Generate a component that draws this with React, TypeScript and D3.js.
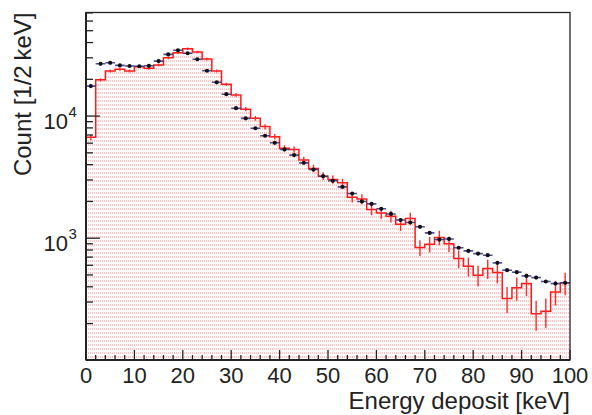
import React from "react";
import * as d3 from "d3";

const binEdges: number[] = d3.range(0, 101, 2);
const dataCounts: number[] = [
  17600, 26800, 27300, 26000, 25700, 25600, 25800, 28200, 32000, 34600,
  32700, 29200, 23500, 18900, 15100, 11600, 9580, 7950, 6900, 6040,
  5330, 4790, 4140, 3650, 3220, 2950, 2630, 2320, 2000, 1910,
  1740, 1580, 1410, 1345, 1240, 1105, 975, 986, 835, 787,
  748, 726, 628, 547, 527, 491, 476, 442, 425, 431,
];
const simCounts: number[] = [
  6700, 19800, 23400, 24200, 23400, 25400, 24600, 26200, 30000, 33000,
  35600, 33500, 29300, 23400, 18200, 14900, 11400, 9580, 8200, 6770,
  5440, 5330, 4360, 3730, 3220, 3030, 2840, 2160, 2090, 1720,
  1610, 1510, 1300, 1450, 839, 893, 1013, 900, 682, 589,
  498, 565, 524, 321, 392, 425, 241, 252, 363, 431,
];
const simWeight = 18.5; // per-event weight: error = sqrt(w * N)
const xTickLabels: string[] = ["0", "10", "20", "30", "40", "50", "60", "70", "80", "90", "100"];
const yDecades: number[] = [1000, 10000];
const xTitle = "Energy deposit [keV]";
const yTitle = "Count [1/2\u2009keV]";

const W = 592, H = 415;
const L = 86, R = 570, T = 12.5, B = 360;
const FONT = "'Liberation Sans', Arial, Helvetica, sans-serif";

export default function App() {
  const x = d3.scaleLinear().domain([0, 100]).range([L, R]);
  const y = d3.scaleLog().domain([100.6, 70500]).range([B, T]);
  const [yMin, yMax] = y.domain();

  const bins = simCounts.map((v, i) => ({ x0: binEdges[i], x1: binEdges[i + 1], v, d: dataCounts[i] }));

  const stepLine = d3.line<[number, number]>().curve(d3.curveStepAfter);
  const stepPts: [number, number][] = bins.map((b) => [x(b.x0), y(b.v)] as [number, number]);
  stepPts.push([x(100), y(bins[bins.length - 1].v)]);

  const area = d3.area<[number, number]>().curve(d3.curveStepAfter).x((p) => p[0]).y0(B).y1((p) => p[1]);

  const xMajor = d3.range(0, 101, 10);
  const xMinor = d3.range(0, 101, 2).filter((v) => v % 10 !== 0);
  const yMinor: number[] = [];
  [100, 1000, 10000].forEach((dec) => {
    for (let k = 2; k <= 9; k++) {
      const v = k * dec;
      if (v > yMin && v < yMax) yMinor.push(v);
    }
  });

  return (
    <svg width={W} height={H} style={{ position: "absolute", left: 0, top: 0, background: "#fff" }}
      fontFamily={FONT}>
      <defs>
        <pattern id="dots" width="2" height="4" patternUnits="userSpaceOnUse">
          <rect x="0" y="0" width="1" height="2" fill="#ff8c8c" opacity="0.5" />
        </pattern>
        <clipPath id="plotClip">
          <rect x={L} y={T} width={R - L} height={B - T} />
        </clipPath>
      </defs>
      <rect x={0} y={0} width={W} height={H} fill="#fff" />
      <g clipPath="url(#plotClip)">
        <path d={area(stepPts) || ""} fill="url(#dots)" />
        <path d={stepLine(stepPts) || ""} fill="none" stroke="#ff1a1a" strokeWidth={1.5} />
        {bins.map((b, i) => {
          const e = Math.sqrt(simWeight * b.v);
          const cx = x((b.x0 + b.x1) / 2);
          return <line key={"re" + i} x1={cx} x2={cx} y1={y(b.v + e)} y2={y(Math.max(b.v - e, 1))}
            stroke="#ff2a2a" strokeWidth={1.4} />;
        })}
        {bins.map((b, i) => (
          <line key={"be" + i} x1={x(b.x0)} x2={x(b.x1)} y1={y(b.d)} y2={y(b.d)}
            stroke="#2e2e88" strokeWidth={1.6} strokeOpacity={0.85} />
        ))}
        {bins.map((b, i) => (
          <circle key={"m" + i} cx={x((b.x0 + b.x1) / 2)} cy={y(b.d)} r={2.1} fill="#111" />
        ))}
      </g>
      {/* frame */}
      <rect x={L} y={T} width={R - L} height={B - T} fill="none" stroke="#222" strokeWidth={1.3} />
      <line x1={L} x2={L} y1={T} y2={B} stroke="#222" strokeWidth={2} />
      <line x1={L} x2={R} y1={B} y2={B} stroke="#222" strokeWidth={2} />
      {/* x ticks */}
      {xMajor.map((v) => (
        <line key={"xM" + v} x1={x(v)} x2={x(v)} y1={B} y2={B - 10} stroke="#222" strokeWidth={1.3} />
      ))}
      {xMinor.map((v) => (
        <line key={"xm" + v} x1={x(v)} x2={x(v)} y1={B} y2={B - 5} stroke="#222" strokeWidth={1.3} />
      ))}
      {xTickLabels.map((t, i) => (
        <text key={"xl" + t} x={x(xMajor[i])} y={383} fontSize={22} textAnchor="middle" fill="#222">{t}</text>
      ))}
      {/* y ticks */}
      {yDecades.map((v) => (
        <line key={"yM" + v} x1={L} x2={L + 14} y1={y(v)} y2={y(v)} stroke="#222" strokeWidth={1.3} />
      ))}
      {yMinor.map((v) => (
        <line key={"ym" + v} x1={L} x2={L + 7} y1={y(v)} y2={y(v)} stroke="#222" strokeWidth={1.3} />
      ))}
      {yDecades.map((v) => (
        <g key={"yl" + v}>
          <text x={68} y={y(v) + 13} fontSize={22} textAnchor="end" fill="#222">10</text>
          <text x={68.5} y={y(v) + 1} fontSize={15} textAnchor="start" fill="#222">{Math.round(Math.log10(v))}</text>
        </g>
      ))}
      <text x={R} y={409} fontSize={24} textAnchor="end" fill="#222">{xTitle}</text>
      <text transform={`translate(31,${T}) rotate(-90)`} fontSize={24} textAnchor="end" fill="#222">{yTitle}</text>
    </svg>
  );
}
